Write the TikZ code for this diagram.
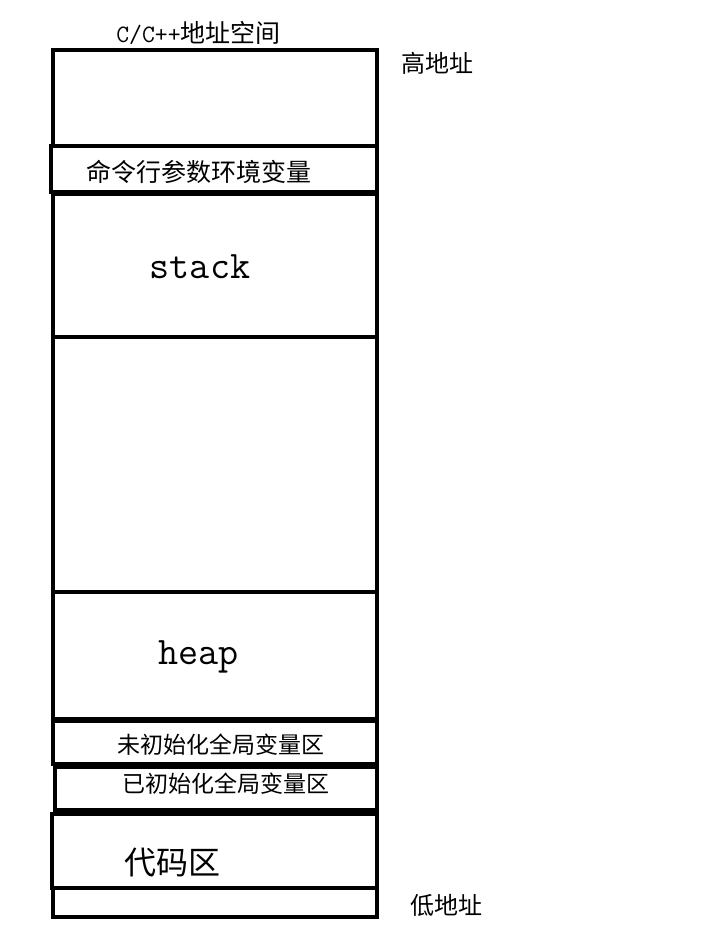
\documentclass[tikz,border=0pt]{standalone}
\usepackage{fontspec}
\newfontfamily\cjk{Noto Sans CJK SC}
\setmonofont{Latin Modern Mono}
\tikzset{
  seg/.style={draw=black, line width=3.3pt},
  cjklabel/.style={inner sep=0pt, font=\cjk\fontsize{#1}{#1}\selectfont},
  monolabel/.style={inner sep=0pt, anchor=base, font=\ttfamily\fontsize{#1}{#1}\selectfont}
}
\begin{document}
\begin{tikzpicture}[x=1pt,y=-1pt]
\useasboundingbox (0,0) rectangle (708,932);
\fill[white] (0,0) rectangle (708,932);
% boxes
\draw[seg] (53,50) rectangle (377,146);
\draw[seg] (51,146) rectangle (377,192);
\draw[seg] (53,194) rectangle (377,337);
\draw[seg] (53,337) rectangle (377,592);
\draw[seg] (53,592) rectangle (377,719);
\draw[seg] (53,721) rectangle (377,764);
\draw[seg] (55,767) rectangle (377,810);
\draw[seg] (52,814) rectangle (377,888);
\draw[seg] (53,888) rectangle (377,917);
% labels
\node[inner sep=0pt, anchor=base] (title) at (198.5,42) {\ttfamily\fontsize{25}{25}\selectfont C/C++\cjk 地址空间};
\node[cjklabel=24] (high) at (437.5,63) {高地址};
\node[cjklabel=25] (cmd) at (198.5,172) {命令行参数环境变量};
\node[monolabel=39] (stack) at (200,278) {stack};
\node[monolabel=39] (heap) at (198.5,664) {heap};
\node[cjklabel=23] (bss) at (221,745) {未初始化全局变量区};
\node[cjklabel=23] (data) at (225.5,784) {已初始化全局变量区};
\node[cjklabel=32] (code) at (172.5,863) {代码区};
\node[cjklabel=24] (low) at (446.5,905) {低地址};
\end{tikzpicture}
\end{document}
